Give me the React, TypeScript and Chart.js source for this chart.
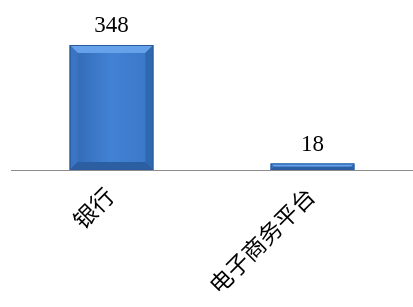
import React, { useEffect, useRef } from "react";
import { Chart, registerables } from "chart.js";

Chart.register(...registerables);

const categories = ["银行", "电子商务平台"];
const values = [348, 18];

const FONT = "'Liberation Serif', 'Times New Roman', 'Noto Sans CJK SC', serif";

const bevelPlugin = {
  id: "bevelBars",
  afterDatasetsDraw(chart: any) {
    const ctx = chart.ctx as CanvasRenderingContext2D;
    const meta = chart.getDatasetMeta(0);
    meta.data.forEach((bar: any, i: number) => {
      const { x, y, base, width } = bar.getProps(["x", "y", "base", "width"], true);
      const l = x - width / 2;
      const r = x + width / 2;
      const h = base - y;
      const b = Math.min(8, h / 2, width / 2);
      ctx.save();
      const g = ctx.createLinearGradient(l, 0, r, 0);
      g.addColorStop(0, "#3168b3");
      g.addColorStop(0.5, "#4282d4");
      g.addColorStop(1, "#3a76c6");
      ctx.fillStyle = g;
      ctx.fillRect(l, y, width, h);
      ctx.fillStyle = "#66a2ea";
      ctx.beginPath();
      ctx.moveTo(l, y);
      ctx.lineTo(r, y);
      ctx.lineTo(r - b, y + b);
      ctx.lineTo(l + b, y + b);
      ctx.closePath();
      ctx.fill();
      ctx.fillStyle = "#3a74c2";
      ctx.beginPath();
      ctx.moveTo(l, y);
      ctx.lineTo(l + b, y + b);
      ctx.lineTo(l + b, base - b);
      ctx.lineTo(l, base);
      ctx.closePath();
      ctx.fill();
      ctx.fillStyle = "#3068b0";
      ctx.beginPath();
      ctx.moveTo(r, y);
      ctx.lineTo(r - b, y + b);
      ctx.lineTo(r - b, base - b);
      ctx.lineTo(r, base);
      ctx.closePath();
      ctx.fill();
      ctx.fillStyle = "#2c5ea2";
      ctx.beginPath();
      ctx.moveTo(l, base);
      ctx.lineTo(l + b, base - b);
      ctx.lineTo(r - b, base - b);
      ctx.lineTo(r, base);
      ctx.closePath();
      ctx.fill();
      ctx.strokeStyle = "#2a5b9e";
      ctx.lineWidth = 1;
      ctx.strokeRect(l + 0.5, y + 0.5, width - 1, h - 1);
      ctx.fillStyle = "#000";
      ctx.font = `23px ${FONT}`;
      ctx.textAlign = "center";
      ctx.textBaseline = "alphabetic";
      ctx.fillText(String(values[i]), x, y - 13);
      ctx.restore();
    });
  },
};

export default function App() {
  const ref = useRef<HTMLCanvasElement | null>(null);
  useEffect(() => {
    if (!ref.current) return;
    const chart = new Chart(ref.current, {
      type: "bar",
      data: {
        labels: categories,
        datasets: [
          {
            data: values,
            backgroundColor: "#3f7fd0",
            borderWidth: 0,
            categoryPercentage: 1,
            barPercentage: 0.416,
          },
        ],
      },
      options: {
        responsive: false,
        maintainAspectRatio: false,
        animation: false,
        layout: { padding: { top: 45, left: 11, right: 0, bottom: 0 } },
        plugins: { legend: { display: false }, tooltip: { enabled: false }, title: { display: false } },
        scales: {
          y: { display: false, min: 0, max: 348 },
          x: {
            grid: { display: false },
            border: { display: true, color: "#8c8c8c", width: 1 },
            ticks: {
              color: "#000",
              font: { family: FONT, size: 23 },
              minRotation: 45,
              maxRotation: 45,
              padding: 6,
            },
            afterFit: (s: any) => {
              s.height = 137;
            },
          },
        },
      },
      plugins: [bevelPlugin],
    });
    return () => chart.destroy();
  }, []);
  return (
    <div style={{ position: "fixed", left: 0, top: 0, width: 413, height: 307, background: "#fff" }}>
      <canvas ref={ref} width={413} height={307} />
    </div>
  );
}
